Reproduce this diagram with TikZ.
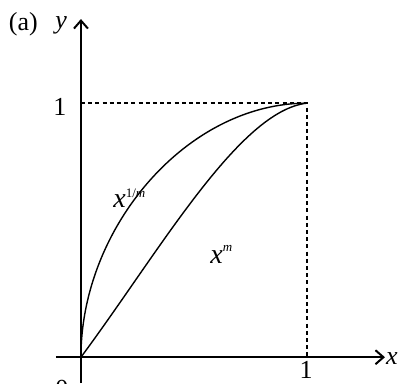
\documentclass[tikz,border=0pt]{standalone}
\usepackage{fontspec}
\setmainfont{Liberation Serif}
\usetikzlibrary{arrows.meta}
\usetikzlibrary{positioning}

\begin{document}
\begin{tikzpicture}[x=113pt, y=127pt,
  axis/.style={line width=1pt, -{Straight Barb[length=4pt,width=7pt,line width=1pt]}},
  curve/.style={line width=0.7pt},
  guide/.style={line width=0.7pt, dash pattern=on 2pt off 1.6pt},
  lbl/.style={font=\fontsize{13}{15}\selectfont, inner sep=0pt},
  flbl/.style={font=\fontsize{14}{16}\selectfont, inner sep=0pt}]

\useasboundingbox (-0.358,-0.102) rectangle (1.407,1.406);

\coordinate (o) at (0,0);
\coordinate (xs) at (-0.111,0);
\coordinate (xe) at (1.345,0);
\coordinate (ys) at (0,-0.102);
\coordinate (ye) at (0,1.331);
\coordinate (y1) at (0,1);
\coordinate (x1) at (1,0);
\coordinate (p) at (1,1);

% guide lines to (1,1)
\path[draw] [guide] (y1) -- (p) -- (x1);

% axes
\path[draw] [axis] (xs) -- (xe);
\path[draw] [axis] (ys) -- (ye);

% the two curves
\path[draw] [curve] (o) .. controls (0,0.51) and (0.467,1) .. (p);
\path[draw] [curve] (o) .. controls (0.35,0.42) and (0.7,0.97) .. (p);

\node[lbl] (part) at (-0.255,1.311) {(a)};
\node[lbl, anchor=base] (ylab) at (-0.088,1.295) {\textit{y}};
\node[lbl] (xlab) at (1.376,-0.004) {\textit{x}};
\node[lbl] (yone) at (-0.093,0.984) {1};
\node[lbl, anchor=north] (xone) at (0.996,-0.014) {1};
\node[lbl, anchor=north] (zero) at (-0.084,-0.087) {0};

\node[flbl, anchor=base west] (root) at (0.142,0.59) {\textit{x}\raisebox{0.75ex}{\fontsize{6.5}{7}\selectfont 1/\textit{m}}};
\node[flbl, anchor=base west] (pow) at (0.571,0.37) {\textit{x}\raisebox{0.9ex}{\fontsize{6.5}{7}\selectfont\textit{m}}};

\end{tikzpicture}
\end{document}
